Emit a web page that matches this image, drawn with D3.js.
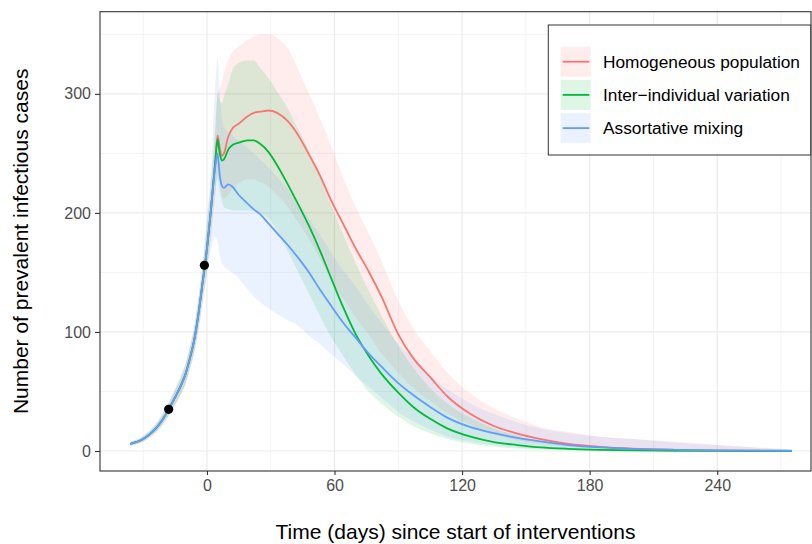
<!DOCTYPE html>
<html><head><meta charset="utf-8">
<script src="https://cdn.jsdelivr.net/npm/d3@7"></script>
<style>body{margin:0;background:#fff}svg{display:block;font-family:"Liberation Sans",Arial,sans-serif}</style>
</head><body><svg id="c" width="812" height="544"></svg>
<script>
const days = [-36,-30,-27,-24,-21,-18,-15,-12,-10,-8,-6,-4,-2,0,2,4,5,6,7,8,10,12,15,19,22,25,29,33,38,43,48,53,58,64,70,76,82,90,97,105,113,124,135,146,157,170,185,200,220,240,260,275];

const homMean = [6,10,14,19,26,35,45,56,65,78,93,115,142,170,205,245,265,255,248,250,264,271,275,281,284,285,286,284,277,265,249,232,212,191,170,151,130,98,78,62,46,31,21,14.6,10,6,3.5,2,1,0.5,0.2,0.1];
const homLo   = [4.5,7.5,11,15,21,29,38,48,56,68,82,100,125,150,180,215,232,225,215,212,215,220,225,228,228,226,222,215,205,192,178,162,145,128,112,98,82,66,53,42,32,22,14,9,6,3.5,2,1,0.5,0.2,0,0];
const homHi   = [8,13,17,23,31,41,52,64,74,88,105,128,158,190,230,275,300,305,310,318,328,335,340,345,348,350,350,347,338,320,300,280,258,230,205,183,160,126,103,84,66,48,36,27,20,16,12,10,7,5,2.5,1];

const indMean = [6,10,14,19,26,35,45,56,65,78,93,115,142,170,205,245,262,250,244,245,253,257,259,261,261,258,251,240,224,207,189,169,147,121,98,80,65,49,37,27,19,12,7.5,5,3,1.8,1,0.5,0.2,0.1,0,0];
const indLo   = [4.5,8,11.5,16,22,30,39,49,57,69,83,103,128,152,185,220,228,218,210,205,203,202,202,202,202,200,195,185,168,150,132,114,97,80,64,50,40,29,21,15,10,6,3.5,2,1,0.5,0.2,0,0,0,0,0];
const indHi   = [7.5,12,16.5,22,30,40,51,63,73,87,103,126,155,188,225,272,300,295,292,298,308,320,326,328,328,322,313,302,288,270,252,232,208,182,158,135,114,88,70,53,40,28,19,13,8,5,3,1.5,0.6,0.3,0.1,0];

const asmMean = [6,10,14,19,26,35,45,56,65,78,93,115,142,170,205,240,250,232,223,221,224,222,215,208,203,199,191,183,173,162,150,136,123,108,95,82,71,57,47,37,28,20,15,11,8,5,3,1.8,1,0.5,0.3,0.2];
const asmLo   = [4.5,8,11.5,16,22,30,39,49,57,69,83,102,125,150,170,180,175,165,158,155,152,150,145,136,130,125,120,115,110,105,97,90,82,73,63,54,45,33,25,18,12,8,5,3,2,1,0.5,0.2,0,0,0,0];
const asmHi   = [8,12.5,17,23,31,41,52,64,74,88,105,130,160,195,240,310,330,300,280,272,268,265,260,255,250,245,238,230,220,208,195,182,168,152,138,122,108,90,76,63,52,40,31,24,19,15,12,10,8,5,3,1];

const seriesNames = ["Homogeneous population","Inter\u2212individual variation","Assortative mixing"];
const seriesColors = ["#F8766D","#00BA38","#619CFF"];
const markDays = [-18,-1.2];
const markVals = [35,156];
const xTicks = [0,60,120,180,240];
const xMinor = [-30,30,90,150,210,270];
const yTicks = [0,100,200,300];
const yMinor = [50,150,250,350];

const series = [
  {name:seriesNames[0],color:seriesColors[0],mean:homMean,lo:homLo,hi:homHi},
  {name:seriesNames[1],color:seriesColors[1],mean:indMean,lo:indLo,hi:indHi},
  {name:seriesNames[2],color:seriesColors[2],mean:asmMean,lo:asmLo,hi:asmHi}
];

const svg = d3.select("#c");
const L=100,R=811,T=11.7,B=471;
const x = d3.scaleLinear().domain([-50.3,284.1]).range([L,R]);
const y = d3.scaleLinear().domain([-16.8,369]).range([B,T]);

const g = svg.append("g");
// grid
g.selectAll(".xmin").data(xMinor).enter().append("line")
 .attr("x1",d=>x(d)).attr("x2",d=>x(d)).attr("y1",T).attr("y2",B).attr("stroke","#ebebeb").attr("stroke-width",0.6);
g.selectAll(".ymin").data(yMinor).enter().append("line")
 .attr("y1",d=>y(d)).attr("y2",d=>y(d)).attr("x1",L).attr("x2",R).attr("stroke","#ebebeb").attr("stroke-width",0.6);
g.selectAll(".xmaj").data(xTicks).enter().append("line")
 .attr("x1",d=>x(d)).attr("x2",d=>x(d)).attr("y1",T).attr("y2",B).attr("stroke","#ebebeb").attr("stroke-width",1.2);
g.selectAll(".ymaj").data(yTicks).enter().append("line")
 .attr("y1",d=>y(d)).attr("y2",d=>y(d)).attr("x1",L).attr("x2",R).attr("stroke","#ebebeb").attr("stroke-width",1.2);

const area = d3.area().x((d,i)=>x(days[i])).curve(d3.curveMonotoneX);
series.forEach(s=>{
  g.append("path").datum(days)
   .attr("d", area.y0((d,i)=>y(s.lo[i])).y1((d,i)=>y(s.hi[i])))
   .attr("fill",s.color).attr("fill-opacity",0.13);
});
const line = d3.line().x((d,i)=>x(days[i])).curve(d3.curveMonotoneX);
series.forEach(s=>{
  g.append("path").datum(days)
   .attr("d", line.y((d,i)=>y(s.mean[i])))
   .attr("fill","none").attr("stroke",s.color).attr("stroke-width",1.8);
});
g.selectAll(".pt").data(markDays).enter().append("circle")
 .attr("cx",d=>x(d)).attr("cy",(d,i)=>y(markVals[i])).attr("r",4.6).attr("fill","#000");

// border
svg.append("rect").attr("x",L).attr("y",T).attr("width",R-L).attr("height",B-T)
 .attr("fill","none").attr("stroke","#333").attr("stroke-width",1.1);

// axes
const xAxis = d3.axisBottom(x).tickValues(xTicks).tickSize(4).tickPadding(5).tickFormat(d3.format("d"));
const ax = svg.append("g").attr("transform",`translate(0,${B})`).call(xAxis);
const yAxis = d3.axisLeft(y).tickValues(yTicks).tickSize(5).tickPadding(4).tickFormat(d3.format("d"));
const ay = svg.append("g").attr("transform",`translate(${L},0)`).call(yAxis);
[ax,ay].forEach(a=>{
  a.select(".domain").remove();
  a.selectAll(".tick line").attr("stroke","#333").attr("stroke-width",1.1);
  a.selectAll(".tick text").attr("fill","#4d4d4d").style("font-size","16px").style("font-family","Liberation Sans, Arial, sans-serif");
});

svg.append("text").attr("x",(L+R)/2).attr("y",539).attr("text-anchor","middle")
 .style("font-size","21px").attr("fill","#000").text("Time (days) since start of interventions");
svg.append("text").attr("transform",`translate(28,${(T+B)/2}) rotate(-90)`).attr("text-anchor","middle")
 .style("font-size","21px").attr("fill","#000").text("Number of prevalent infectious cases");

// legend
const lg = svg.append("g");
lg.append("rect").attr("x",548.3).attr("y",25).attr("width",262.4).attr("height",130)
 .attr("fill","#fff").attr("stroke","#333").attr("stroke-width",1);
series.forEach((s,i)=>{
  const cy = 61.7 + i*33.2;
  lg.append("rect").attr("x",560.7).attr("y",cy-15).attr("width",30).attr("height",30)
    .attr("fill",s.color).attr("fill-opacity",0.13);
  lg.append("line").attr("x1",562.7).attr("x2",589.3).attr("y1",cy).attr("y2",cy)
    .attr("stroke",s.color).attr("stroke-width",1.8);
  lg.append("text").attr("x",603).attr("y",cy+6.3).style("font-size","17.3px").attr("fill","#000").text(s.name);
});
</script></body></html>
